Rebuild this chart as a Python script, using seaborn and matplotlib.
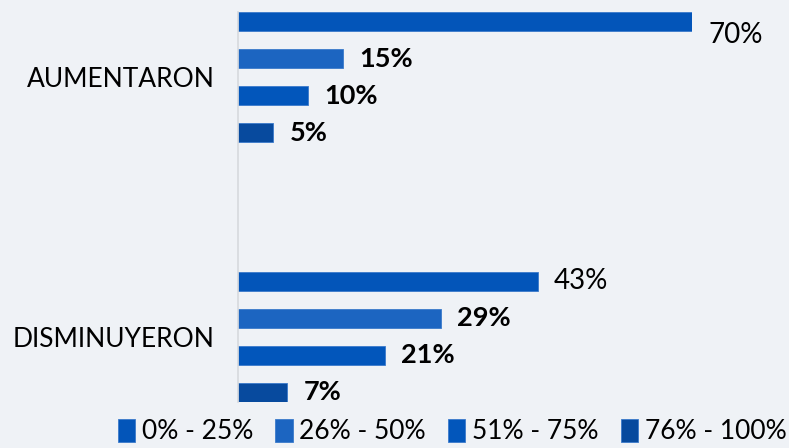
import pandas as pd
import matplotlib.pyplot as plt
import seaborn as sns

# Data
respuestas = ['AUMENTARON', 'DISMINUYERON']
rangos = ['0% - 25%', '26% - 50%', '51% - 75%', '76% - 100%']
aumentaron = [70, 15, 10, 5]
disminuyeron = [43, 29, 21, 7]
colores = ['#0355B9', '#1C65C1', '#0256BB', '#074A9E']

# Build a long table for seaborn
rows = []
for resp, vals in zip(respuestas, [aumentaron, disminuyeron]):
    for rango, v in zip(rangos, vals):
        rows.append({'Respuesta': resp, 'Rango': rango, 'Porcentaje': v})
df = pd.DataFrame(rows)

# Excel-style layout: an empty category between the two groups
orden = ['AUMENTARON', '', 'DISMINUYERON']
bg = '#EFF2F6'
xmax = 65

sns.set_style('white')
plt.rcParams['font.family'] = ['Lato', 'DejaVu Sans']
plt.rcParams['text.color'] = 'black'
plt.rcParams['ytick.labelcolor'] = 'black'

fig = plt.figure(figsize=(7.89, 4.48), dpi=100, facecolor=bg)
ax = fig.add_axes([0.3017, 0.103, 0.5755, 0.870], facecolor=bg)

sns.barplot(data=df, y='Respuesta', x='Porcentaje', hue='Rango',
            order=orden, hue_order=rangos, palette=dict(zip(rangos, colores)),
            orient='h', width=1.14, gap=0.49, saturation=1, ax=ax, legend=True,
            edgecolor='#3A7ACB', linewidth=0.6)

ax.set_xlim(0, xmax)
ax.set_ylim(2.5, -0.5)
ax.set_xlabel('')
ax.set_ylabel('')
ax.set_xticks([])

# Value labels
for i, cont in enumerate(ax.containers):
    for bar in cont:
        w = bar.get_width()
        if w != w or w == 0:
            continue
        yc = bar.get_y() + bar.get_height() / 2
        if w > xmax:
            # clipped bar, label nudged down as in the reference
            ax.annotate(f'{w:.0f}%', (xmax, yc), xytext=(12, -10),
                        textcoords='offset points', va='center', ha='left',
                        fontsize=20, annotation_clip=False)
        elif i == 0:
            ax.annotate(f'{w:.0f}%', (w, yc), xytext=(11, 0),
                        textcoords='offset points', va='center', ha='left',
                        fontsize=20)
        else:
            ax.annotate(f'{w:.0f}%', (w, yc), xytext=(12, 0),
                        textcoords='offset points', va='center', ha='left',
                        fontsize=19.5, fontweight='bold')

# Axis styling
for s in ['top', 'right', 'bottom']:
    ax.spines[s].set_visible(False)
ax.spines['left'].set_color('#D6D9DD')
ax.spines['left'].set_linewidth(1.2)
ax.tick_params(axis='y', which='major', length=0, pad=17, labelsize=19)
ax.set_yticks([-0.5, 0.5, 1.5, 2.5], minor=True)
ax.tick_params(axis='y', which='minor', length=5, color='#D6D9DD', width=1.2)

# Legend at the bottom
handles, labels = ax.get_legend_handles_labels()
ax.get_legend().remove()
fig.legend(handles, labels, loc='lower center', ncol=4, frameon=False,
           bbox_to_anchor=(0.573, -0.045), fontsize=19, handlelength=0.65,
           handleheight=1.0, handletextpad=0.25, columnspacing=0.85)

fig.savefig('out.png', dpi=100, facecolor=bg)
